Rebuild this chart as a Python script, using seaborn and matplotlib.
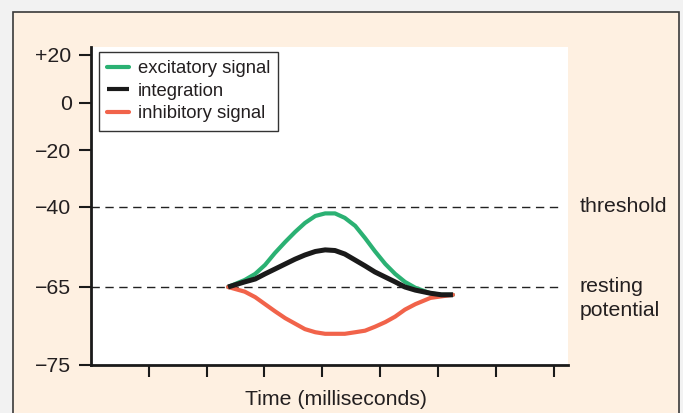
import numpy as np
import pandas as pd
import matplotlib
matplotlib.use("Agg")
import matplotlib.pyplot as plt
from matplotlib.patches import Rectangle
import seaborn as sns

# time (arbitrary ms units, one unit per x tick)
time = [2.37, 2.66, 2.84, 3.01, 3.18, 3.36, 3.53, 3.70, 3.88, 4.05, 4.22,
        4.39, 4.57, 4.74, 4.91, 5.09, 5.26, 5.43, 5.61, 5.87, 6.06, 6.26]
excitatory = [-65.0, -62.8, -60.9, -58.1, -54.4, -50.9, -47.8, -45.0, -42.8, -42.0, -42.0,
              -43.4, -45.9, -49.7, -53.8, -57.8, -60.9, -63.4, -65.1, -65.8, -66.0, -66.0]
integration = [-65.0, -63.4, -62.5, -60.9, -59.4, -57.8, -56.3, -55.0, -53.9, -53.4, -53.6,
               -54.7, -56.6, -58.4, -60.3, -61.9, -63.4, -65.0, -65.4, -65.8, -66.0, -66.0]
inhibitory = [-65.0, -65.6, -66.3, -67.2, -68.1, -69.0, -69.7, -70.4, -70.8, -71.0, -71.0,
              -71.0, -70.8, -70.6, -70.1, -69.5, -68.8, -67.9, -67.2, -66.4, -66.2, -66.0]

ytick_values = [-75, -65, -40, -20, 0, 20]
ytick_labels = ["\u221275", "\u221265", "\u221240", "\u221220", "0", "+20"]
# the printed axis is not linear: relative height of each tick
ytick_heights = [0, 78, 158, 215, 262, 310]
xtick_values = [1, 2, 3, 4, 5, 6, 7, 8]

threshold = -40
resting = -65

green = "#2bb173"
red = "#f1634a"
black = "#1a1a1a"
beige = "#fef0e1"
text_color = "#231f20"

# piecewise scale, extended past the end ticks so limits can go beyond them
scale_values = [-100] + ytick_values + [40]
scale_heights = [-195] + ytick_heights + [358]


def fwd(v):
    return np.interp(v, scale_values, scale_heights)


def inv(p):
    return np.interp(p, scale_heights, scale_values)


sns.set_style("white")
plt.rcParams["font.family"] = ["Liberation Sans", "DejaVu Sans"]

fig = plt.figure(figsize=(6.83, 4.13), dpi=100)
fig.patch.set_facecolor("#f2f2f2")
fig.patches.append(Rectangle((13 / 683, -0.01), 666 / 683, 1 - 12 / 413 + 0.01,
                             transform=fig.transFigure, facecolor=beige,
                             edgecolor="#3a3a3a", linewidth=1.2, zorder=-5))

ax = fig.add_axes([91 / 683, 1 - 365 / 413, 477 / 683, 318 / 413])
ax.set_zorder(2)
ax.set_facecolor("white")
ax.set_yscale("function", functions=(fwd, inv))

df = pd.DataFrame({"time": time, "excitatory signal": excitatory,
                   "integration": integration, "inhibitory signal": inhibitory})

sns.lineplot(data=df, x="time", y="excitatory signal", color=green, lw=3.0,
             ax=ax, label="excitatory signal", sort=False, zorder=3)
sns.lineplot(data=df, x="time", y="inhibitory signal", color=red, lw=3.0,
             ax=ax, label="inhibitory signal", sort=False, zorder=3)
sns.lineplot(data=df, x="time", y="integration", color=black, lw=3.6,
             ax=ax, label="integration", sort=False, zorder=4,
             solid_capstyle="butt")

ax.axhline(threshold, xmax=0.99, color="#222222", lw=1, ls=(0, (6, 4)), zorder=2)
ax.axhline(resting, xmax=0.99, color="#222222", lw=1, ls=(0, (6, 4)), zorder=2)

ax.set_xlim(0, 8.25)
ax.set_xticks(xtick_values)
ax.set_xticklabels([])
ax.tick_params(axis="both", direction="out", length=8.5, width=1.5, color=black,
               left=True, bottom=True, pad=5.5)
ax.set_yticks(ytick_values)
ax.set_yticklabels(ytick_labels, fontsize=15.3, color=text_color)
ax.minorticks_off()
ax.set_ylim(-75, inv(318))

sns.despine(ax=ax)
for side in ["left", "bottom"]:
    ax.spines[side].set_linewidth(2)
    ax.spines[side].set_color(black)

ax.set_xlabel("Time (milliseconds)", fontsize=15.3, color=text_color, labelpad=4)
ax.xaxis.label.set_x(0.514)
ax.set_ylabel("")

ax.text(1.024, threshold, "threshold", transform=ax.get_yaxis_transform(),
        fontsize=15.3, color=text_color, va="center", ha="left", clip_on=False)
ax.text(1.024, -66.5, "resting\npotential", transform=ax.get_yaxis_transform(),
        fontsize=15.3, color=text_color, va="center", ha="left", clip_on=False,
        linespacing=1.3)

handles, labels = ax.get_legend_handles_labels()
order = [labels.index(n) for n in ["excitatory signal", "integration", "inhibitory signal"]]
leg = ax.legend([handles[i] for i in order], [labels[i] for i in order],
                loc="upper left", bbox_to_anchor=(0.0168, 0.984), fontsize=13.3,
                frameon=True, fancybox=False, framealpha=1, edgecolor="#333333",
                handlelength=1.2, handletextpad=0.45, borderpad=0.45,
                labelspacing=0.3, borderaxespad=0)
leg.get_frame().set_linewidth(1)
for line in leg.get_lines():
    line.set_linewidth(3.0)
for t in leg.get_texts():
    t.set_color(text_color)

fig.savefig("out.png", dpi=100, facecolor=fig.get_facecolor())
